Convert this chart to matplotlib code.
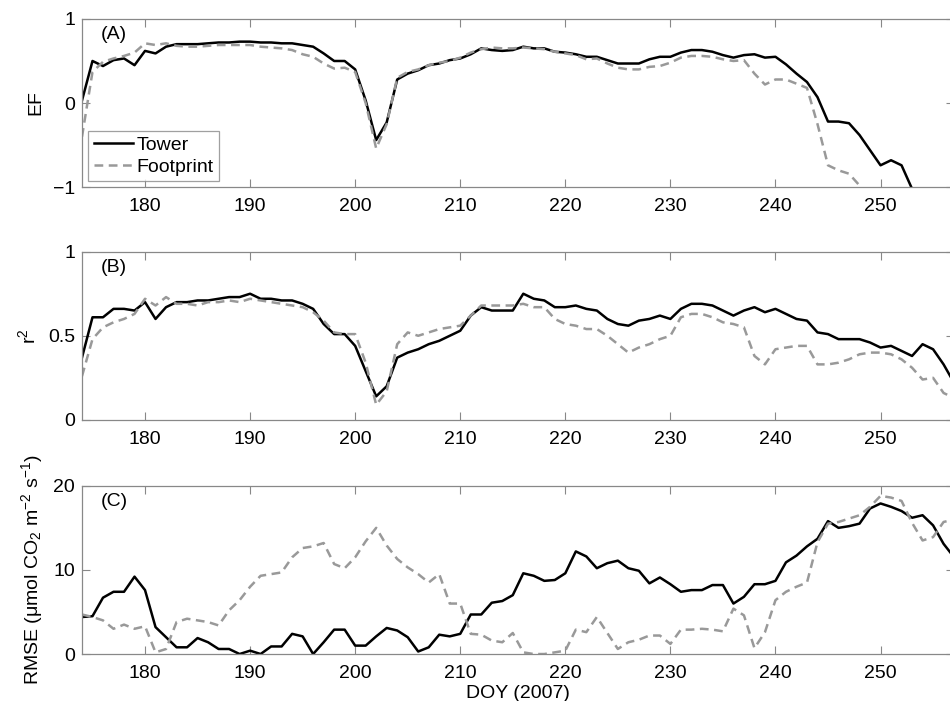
import numpy as np
import matplotlib
matplotlib.use('Agg')
import matplotlib.pyplot as plt

plt.rcParams['font.family'] = ['Liberation Sans', 'DejaVu Sans']
plt.rcParams['mathtext.fontset'] = 'custom'
plt.rcParams['mathtext.rm'] = 'Liberation Sans'
plt.rcParams['mathtext.it'] = 'Liberation Sans'

doy = list(range(174, 258))

ef_tower = [0.03, 0.50, 0.44, 0.51, 0.53, 0.45, 0.62, 0.59, 0.67, 0.70,
            0.70, 0.70, 0.71, 0.72, 0.72, 0.73, 0.73, 0.72, 0.72, 0.71,
            0.71, 0.69, 0.67, 0.59, 0.50, 0.50, 0.40, 0.03, -0.44, -0.23,
            0.28, 0.35, 0.39, 0.45, 0.47, 0.51, 0.53, 0.58, 0.65, 0.63,
            0.62, 0.63, 0.67, 0.65, 0.65, 0.61, 0.60, 0.58, 0.55, 0.55,
            0.51, 0.47, 0.47, 0.47, 0.52, 0.55, 0.55, 0.60, 0.63, 0.63,
            0.61, 0.57, 0.54, 0.57, 0.58, 0.54, 0.55, 0.46, 0.35, 0.25,
            0.07, -0.22, -0.22, -0.24, -0.38, -0.56, -0.74, -0.68, -0.74, -1.02,
            -1.3, -1.5, -1.7, -1.9]
ef_foot = [-0.40, 0.37, 0.49, 0.53, 0.56, 0.60, 0.71, 0.69, 0.71, 0.68,
           0.67, 0.67, 0.68, 0.69, 0.69, 0.69, 0.69, 0.67, 0.66, 0.65,
           0.63, 0.58, 0.55, 0.47, 0.41, 0.42, 0.37, 0.00, -0.54, -0.25,
           0.30, 0.37, 0.40, 0.45, 0.48, 0.50, 0.54, 0.60, 0.64, 0.66,
           0.65, 0.65, 0.66, 0.65, 0.64, 0.61, 0.59, 0.57, 0.52, 0.53,
           0.47, 0.42, 0.40, 0.40, 0.43, 0.44, 0.48, 0.54, 0.56, 0.56,
           0.55, 0.52, 0.50, 0.51, 0.35, 0.22, 0.28, 0.28, 0.23, 0.18,
           -0.25, -0.74, -0.80, -0.84, -0.98, -1.3, -1.5, -1.7, -1.9, -2.0,
           -2.1, -2.2, -2.3, -2.4]

r2_tower = [0.37, 0.61, 0.61, 0.66, 0.66, 0.65, 0.70, 0.60, 0.67, 0.70,
            0.70, 0.71, 0.71, 0.72, 0.73, 0.73, 0.75, 0.72, 0.72, 0.71,
            0.71, 0.69, 0.66, 0.57, 0.51, 0.51, 0.44, 0.29, 0.14, 0.20,
            0.37, 0.40, 0.42, 0.45, 0.47, 0.50, 0.53, 0.62, 0.67, 0.65,
            0.65, 0.65, 0.75, 0.72, 0.71, 0.67, 0.67, 0.68, 0.66, 0.65,
            0.60, 0.57, 0.56, 0.59, 0.60, 0.62, 0.60, 0.66, 0.69, 0.69,
            0.68, 0.65, 0.62, 0.65, 0.67, 0.64, 0.66, 0.63, 0.60, 0.59,
            0.52, 0.51, 0.48, 0.48, 0.48, 0.46, 0.43, 0.44, 0.41, 0.38,
            0.45, 0.42, 0.33, 0.22]
r2_foot = [0.26, 0.48, 0.55, 0.58, 0.60, 0.63, 0.72, 0.68, 0.73, 0.69,
           0.69, 0.68, 0.70, 0.70, 0.71, 0.70, 0.72, 0.71, 0.70, 0.69,
           0.68, 0.67, 0.64, 0.59, 0.52, 0.51, 0.51, 0.34, 0.09, 0.17,
           0.45, 0.52, 0.50, 0.52, 0.54, 0.55, 0.56, 0.62, 0.68, 0.68,
           0.68, 0.68, 0.69, 0.67, 0.67, 0.60, 0.57, 0.56, 0.54, 0.54,
           0.50, 0.45, 0.40, 0.43, 0.45, 0.48, 0.50, 0.61, 0.63, 0.63,
           0.61, 0.58, 0.57, 0.55, 0.38, 0.33, 0.42, 0.43, 0.44, 0.44,
           0.33, 0.33, 0.34, 0.36, 0.39, 0.40, 0.40, 0.39, 0.36, 0.31,
           0.24, 0.25, 0.16, 0.13]

rmse_tower = [4.4, 4.5, 6.7, 7.4, 7.4, 9.2, 7.6, 3.2, 2.0, 0.8,
              0.8, 1.9, 1.4, 0.6, 0.6, 0.0, 0.4, 0.0, 0.9, 0.9,
              2.4, 2.1, 0.0, 1.4, 2.9, 2.9, 1.0, 1.0, 2.1, 3.1,
              2.8, 2.0, 0.3, 0.8, 2.3, 2.1, 2.4, 4.7, 4.7, 6.1,
              6.3, 7.0, 9.6, 9.3, 8.7, 8.8, 9.6, 12.2, 11.6, 10.2,
              10.8, 11.1, 10.2, 9.9, 8.4, 9.1, 8.3, 7.4, 7.6, 7.6,
              8.2, 8.2, 6.0, 6.8, 8.3, 8.3, 8.7, 10.9, 11.7, 12.8,
              13.7, 15.8, 15.0, 15.2, 15.5, 17.3, 17.9, 17.5, 17.0, 16.2,
              16.5, 15.3, 13.1, 11.5]
rmse_foot = [4.7, 4.4, 4.0, 3.0, 3.5, 3.0, 3.3, 0.2, 0.6, 3.8,
             4.2, 4.0, 3.8, 3.4, 5.2, 6.4, 8.0, 9.3, 9.5, 9.7,
             11.5, 12.6, 12.8, 13.2, 10.7, 10.2, 11.5, 13.4, 15.0, 12.9,
             11.3, 10.3, 9.5, 8.5, 9.5, 6.0, 6.0, 2.4, 2.3, 1.6,
             1.4, 2.5, 0.2, 0.0, 0.0, 0.2, 0.4, 2.9, 2.6, 4.4,
             2.5, 0.6, 1.4, 1.7, 2.2, 2.2, 1.2, 2.9, 2.9, 3.0,
             2.9, 2.7, 5.4, 4.6, 0.7, 2.6, 6.4, 7.4, 8.0, 8.5,
             13.3, 15.5, 15.7, 16.1, 16.5, 17.5, 18.8, 18.6, 18.2, 15.6,
             13.5, 13.9, 15.7, 16.0]

panels = [
    ('(A)', 'EF', ef_tower, ef_foot, (-1, 1), [-1, 0, 1], ['\u22121', '0', '1']),
    ('(B)', 'r$^2$', r2_tower, r2_foot, (0, 1), [0, 0.5, 1], ['0', '0.5', '1']),
    ('(C)', 'RMSE (\u03bcmol CO$_2$ m$^{-2}$ s$^{-1}$)', rmse_tower, rmse_foot,
     (0, 20), [0, 10, 20], ['0', '10', '20']),
]
bottoms = [0.733, 0.401, 0.067]
height = 0.240

fig = plt.figure(figsize=(9.5, 7.01), dpi=100)
for (tag, ylab, tw, fp, ylim, yt, ytl), b in zip(panels, bottoms):
    ax = fig.add_axes([0.0863, b, 0.918, height])
    ax.plot(doy, tw, color='black', lw=1.8, label='Tower')
    ax.plot(doy, fp, color='#999999', lw=1.8, ls=(0, (3.5, 2.2)), label='Footprint')
    ax.set_xlim(174, 257)
    ax.set_ylim(*ylim)
    ax.set_xticks(range(180, 251, 10))
    ax.set_yticks(yt)
    ax.set_yticklabels(ytl)
    ax.tick_params(direction='in', top=True, right=True, length=6,
                   color='#888888', labelsize=14)
    ax.tick_params(axis='x', pad=8)
    ax.tick_params(axis='y', pad=5)
    for s in ax.spines.values():
        s.set_color('#888888')
        s.set_linewidth(0.9)
    ax.set_ylabel(ylab, fontsize=14, labelpad=6)
    ax.text(0.022, 0.955, tag, transform=ax.transAxes, fontsize=14, va='top')
    if tag == '(A)':
        leg = ax.legend(loc='lower left', fontsize=14, frameon=True, fancybox=False,
                        handlelength=2.0, handletextpad=0.2, borderpad=0.3,
                        labelspacing=0.2, borderaxespad=0.3)
        leg.get_frame().set_edgecolor('#888888')
        leg.get_frame().set_linewidth(0.9)
    if tag == '(C)':
        ax.set_xlabel('DOY (2007)', fontsize=14, labelpad=2)

fig.savefig('out.png', dpi=100)
